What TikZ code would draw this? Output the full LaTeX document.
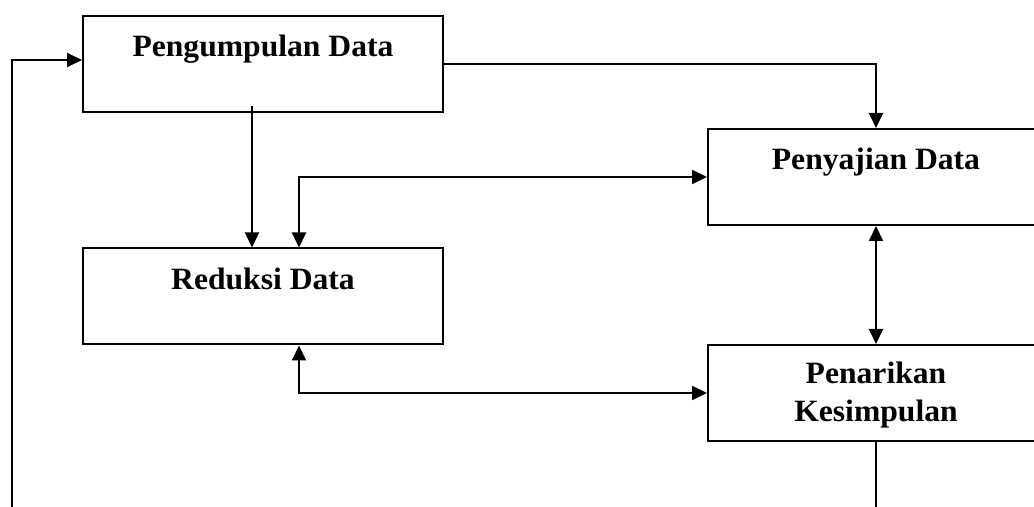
\documentclass[tikz,border=0pt]{standalone}
\usepackage{fontspec}
\setmainfont[FakeStretch=1.02]{Liberation Serif}
\usetikzlibrary{arrows.meta, positioning, calc}

\begin{document}
\begin{tikzpicture}[x=0.5pt, y=-0.5pt,
      kotak/.style={rectangle, draw=black, line width=1pt,
        minimum height=48pt, inner sep=0pt},
      teks/.style={anchor=north, inner sep=0pt, yshift=-10pt, align=center,
        font=\bfseries\fontsize{15.5}{19}\selectfont},
      panah/.style={-{Triangle[length=7.5pt, width=7pt]}, line width=1pt},
      panahdua/.style={{Triangle[length=7.5pt, width=7pt]}-{Triangle[length=7.5pt, width=7pt]}, line width=1pt}
    ]
      \useasboundingbox (0,0) rectangle (1034,507);
      \clip (0,0) rectangle (1034,507);

      \node[kotak, minimum width=180pt, label={[teks]north:Pengumpulan Data}] (kumpul) at (263,64) {};
      \node[kotak, minimum width=168pt, label={[teks]north:Penyajian Data}] (saji) at (876,177) {};
      \node[kotak, minimum width=180pt, label={[teks]north:Reduksi Data}] (reduksi) at (263,296.5) {};
      \node[kotak, minimum width=168pt, label={[teks, yshift=1pt]north:{Penarikan\\Kesimpulan}}] (tarik) at (876,393) {};

      \coordinate (balik) at (12,530);
      \coordinate (bawah) at (876,530);

      \draw[panah] (balik) |- ([yshift=2pt]kumpul.west);
      \draw[panah] (kumpul.east) -| (saji.north);
      \draw[panah] ([xshift=-5.5pt, yshift=3.5pt]kumpul.south) -- ([xshift=-5.5pt]reduksi.north);
      \draw[panahdua] ([xshift=18pt]reduksi.north) |- (saji.west);
      \draw[panahdua] (saji.south) -- (tarik.north);
      \draw[panahdua] ([xshift=18pt]reduksi.south) |- (tarik.west);
      \draw[line width=1pt] (tarik.south) -- (bawah);
    \end{tikzpicture}
\end{document}
